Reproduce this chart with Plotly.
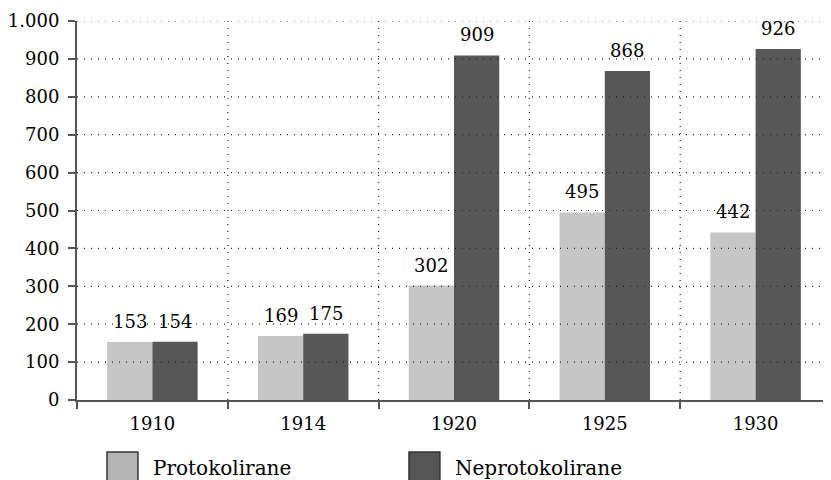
import plotly.graph_objects as go

years = ["1910", "1914", "1920", "1925", "1930"]
series_names = ["Protokolirane", "Neprotokolirane"]
protokolirane = [153, 169, 302, 495, 442]
neprotokolirane = [154, 175, 909, 868, 926]
y_ticks = [0, 100, 200, 300, 400, 500, 600, 700, 800, 900, 1000]

bar_colors = ["#c6c6c6", "#575757"]
legend_colors = ["#b4b4b4", "#555555"]
FONT = "DejaVu Serif"
NUM_SIZE = 18
LEG_SIZE = 20
AXIS_COLOR = "#555555"

fig = go.Figure()
all_values = [protokolirane, neprotokolirane]
for name, vals, col in zip(series_names, all_values, bar_colors):
    fig.add_trace(go.Bar(x=years, y=vals, name=name, marker=dict(color=col, line=dict(width=0)),
                         showlegend=False))

# value labels above bars
offsets = [-0.15, 0.15]
annotations = []
for vals, off in zip(all_values, offsets):
    for i, v in enumerate(vals):
        annotations.append(dict(x=i + off, y=v, xref="x", yref="y", text=str(v), showarrow=False,
                                yanchor="bottom", xanchor="center", yshift=8,
                                font=dict(family=FONT, size=NUM_SIZE, color="black")))

shapes = []
dot = "1px,6px"
for v in y_ticks[1:]:
    shapes.append(dict(type="line", xref="paper", yref="y", x0=0, x1=1, y0=v, y1=v,
                       line=dict(color="#222222", width=1.2, dash=dot), layer="above"))
for k in range(1, len(years)):
    shapes.append(dict(type="line", xref="x", yref="y", x0=k - 0.5, x1=k - 0.5, y0=0, y1=y_ticks[-1],
                       line=dict(color="#222222", width=1.2, dash=dot), layer="above"))

# manual legend with large swatches
leg_x = [0.0398, 0.4403]
for name, col, lx in zip(series_names, legend_colors, leg_x):
    shapes.append(dict(type="rect", xref="paper", yref="paper", x0=lx, x1=lx + 0.041,
                       y0=-0.219, y1=-0.137, fillcolor=col, line=dict(color="#333333", width=1.5)))
    annotations.append(dict(x=lx + 0.058, y=-0.18, xref="paper", yref="paper", text=name,
                            showarrow=False, xanchor="left", yanchor="middle",
                            font=dict(family=FONT, size=LEG_SIZE, color="black")))

fig.update_layout(
    width=831, height=480,
    margin=dict(l=69, r=8, t=13, b=88),
    paper_bgcolor="white", plot_bgcolor="white",
    barmode="group", bargap=0.4, bargroupgap=0,
    separators=",.",
    font=dict(family=FONT, size=NUM_SIZE, color="black"),
    showlegend=False,
    shapes=shapes, annotations=annotations,
    xaxis=dict(type="category", showgrid=False, zeroline=False, showline=True, automargin=False,
               linecolor=AXIS_COLOR, linewidth=2, ticks="outside", tickson="boundaries",
               ticklen=7, tickwidth=1.5, tickcolor=AXIS_COLOR, ticklabelstandoff=6,
               tickfont=dict(family=FONT, size=NUM_SIZE, color="black")),
    yaxis=dict(range=[0, 1000], tickvals=y_ticks, tickformat=",d", showgrid=False, automargin=False,
               zeroline=False, showline=True, linecolor=AXIS_COLOR, linewidth=2,
               ticks="outside", ticklen=7, tickwidth=1.5, tickcolor=AXIS_COLOR,
               ticklabelstandoff=5,
               tickfont=dict(family=FONT, size=NUM_SIZE, color="black")),
)

fig.write_html("out.html")
